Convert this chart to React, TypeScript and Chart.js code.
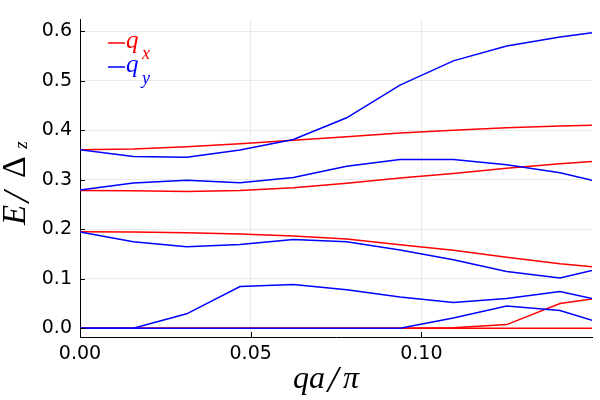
import { useEffect, useRef } from "react";
import { Chart, registerables, type Plugin } from "chart.js";

Chart.register(...registerables);

// q a / pi sample points
const qValues = [0, 0.015625, 0.03125, 0.046875, 0.0625, 0.078125, 0.09375, 0.109375, 0.125, 0.140625, 0.15];

// q_x branches (red)
const qxBand1 = [0.3605, 0.3618, 0.3664, 0.3724, 0.3796, 0.3868, 0.394, 0.4, 0.4046, 0.4085, 0.41];
const qxBand2 = [0.2783, 0.2776, 0.2763, 0.2783, 0.2836, 0.2927, 0.3033, 0.3124, 0.323, 0.3322, 0.3369];
const qxBand3 = [0.1947, 0.1941, 0.1928, 0.1902, 0.1862, 0.1803, 0.1684, 0.1572, 0.1434, 0.1302, 0.1243];
const qxBand4 = [0, 0, 0, 0, 0, 0, 0, 0.001, 0.0072, 0.05, 0.059];
const qxBand5 = [0, 0, 0, 0, 0, 0, 0, 0, 0, 0, 0];

// q_y branches (blue)
const qyBand1 = [0.3605, 0.3467, 0.3454, 0.3598, 0.381, 0.425, 0.491, 0.54, 0.57, 0.588, 0.597];
const qyBand2 = [0.2789, 0.2934, 0.2986, 0.294, 0.3046, 0.327, 0.3408, 0.3408, 0.33, 0.3138, 0.2986];
const qyBand3 = [0.1941, 0.1745, 0.1645, 0.169, 0.179, 0.1745, 0.158, 0.1382, 0.1145, 0.1013, 0.1164];
const qyBand4 = [0, 0, 0.029, 0.0842, 0.0882, 0.0776, 0.0632, 0.052, 0.0598, 0.0743, 0.0598];
const qyBand5 = [0, 0, 0, 0, 0, 0, 0, 0.0204, 0.0447, 0.0355, 0.0158];

const xTicks = [0, 0.05, 0.1];
const yTicks = [0, 0.1, 0.2, 0.3, 0.4, 0.5, 0.6];

const RED = "#ff0000";
const BLUE = "#0000ff";
const SERIF = "'Liberation Serif', 'DejaVu Serif', serif";

const toPoints = (ys: number[]) => ys.map((y, i) => ({ x: qValues[i], y }));

const line = (ys: number[], color: string, order: number) => ({
  data: toPoints(ys),
  borderColor: color,
  backgroundColor: color,
  borderWidth: 1.5,
  pointRadius: 0,
  tension: 0,
  fill: false,
  order,
});

// small tick marks pointing into the plot, like the GR backend
const innerTicks: Plugin = {
  id: "innerTicks",
  afterDraw(chart) {
    const { ctx, chartArea, scales } = chart;
    ctx.save();
    ctx.strokeStyle = "#000";
    ctx.lineWidth = 1;
    ctx.beginPath();
    for (const v of yTicks) {
      const py = Math.round(scales.y.getPixelForValue(v)) + 0.5;
      ctx.moveTo(chartArea.left, py);
      ctx.lineTo(chartArea.left + 5, py);
    }
    for (const v of xTicks) {
      const px = Math.round(scales.x.getPixelForValue(v)) + 0.5;
      ctx.moveTo(px, chartArea.bottom);
      ctx.lineTo(px, chartArea.bottom - 5);
    }
    ctx.stroke();
    ctx.restore();
  },
};

// axis titles and legend with sub-scripts
const mathText: Plugin = {
  id: "mathText",
  afterDraw(chart) {
    const { ctx } = chart;
    ctx.save();
    ctx.fillStyle = "#000";
    ctx.textBaseline = "alphabetic";

    // x title: qa/π
    ctx.font = `italic 32px ${SERIF}`;
    ctx.textAlign = "left";
    ctx.fillText("qa", 293, 388);
    ctx.font = `italic 38px ${SERIF}`;
    ctx.textAlign = "center";
    ctx.fillText("/", 333, 392);
    ctx.font = `italic 32px ${SERIF}`;
    ctx.textAlign = "left";
    ctx.fillText("π", 343, 388);

    // y title: E/Δ_z (rotated)
    ctx.save();
    ctx.translate(25, 225);
    ctx.rotate(-Math.PI / 2);
    ctx.font = `italic 33px ${SERIF}`;
    ctx.textAlign = "left";
    ctx.fillText("E", 0, 0);
    ctx.font = `italic 38px ${SERIF}`;
    ctx.textAlign = "center";
    ctx.fillText("/", 28, 4);
    ctx.font = `34px ${SERIF}`;
    ctx.fillText("Δ", 58, 0);
    ctx.font = `italic 19px ${SERIF}`;
    ctx.fillText("z", 80, 2);
    ctx.restore();

    // legend
    const rows = [
      { color: RED, sub: "x", y: 43, subY: 59 },
      { color: BLUE, sub: "y", y: 67, subY: 84 },
    ];
    for (const r of rows) {
      ctx.strokeStyle = r.color;
      ctx.fillStyle = r.color;
      ctx.lineWidth = 1.5;
      ctx.beginPath();
      ctx.moveTo(108, r.y);
      ctx.lineTo(125, r.y);
      ctx.stroke();
      ctx.textAlign = "left";
      ctx.font = `italic 25px ${SERIF}`;
      ctx.fillText("q", 126, r.y + 5);
      ctx.font = `italic 18px ${SERIF}`;
      ctx.fillText(r.sub, 142, r.subY);
    }
    ctx.restore();
  },
};

export default function App() {
  const canvasRef = useRef<HTMLCanvasElement>(null);

  useEffect(() => {
    document.body.style.margin = "0";
    const canvas = canvasRef.current;
    if (!canvas) return;

    const tickFont = { family: "'DejaVu Sans', sans-serif", size: 19 };

    const chart = new Chart(canvas, {
      type: "line",
      data: {
        datasets: [
          line(qxBand1, RED, 1),
          line(qxBand2, RED, 1),
          line(qxBand3, RED, 1),
          line(qxBand4, RED, 1),
          line(qxBand5, RED, 1),
          line(qyBand1, BLUE, 0),
          line(qyBand2, BLUE, 0),
          line(qyBand3, BLUE, 0),
          line(qyBand4, BLUE, 0),
          line(qyBand5, BLUE, 0),
        ],
      },
      options: {
        responsive: false,
        animation: false,
        devicePixelRatio: 1,
        layout: { padding: { top: 12, right: 8, left: 0, bottom: 0 } },
        plugins: { legend: { display: false }, tooltip: { enabled: false } },
        scales: {
          x: {
            type: "linear",
            min: 0,
            max: 0.15,
            afterBuildTicks: (s) => {
              s.ticks = xTicks.map((value) => ({ value }));
            },
            afterFit: (s) => {
              s.height = 63;
            },
            ticks: {
              color: "#000",
              font: tickFont,
              padding: 6,
              maxRotation: 0,
              callback: (v) => Number(v).toFixed(2),
            },
            grid: { color: "rgba(0,0,0,0.08)", drawTicks: false },
            border: { color: "#000", width: 1 },
          },
          y: {
            type: "linear",
            min: -0.0178,
            max: 0.6237,
            afterBuildTicks: (s) => {
              s.ticks = yTicks.map((value) => ({ value }));
            },
            afterFit: (s) => {
              s.width = 80;
            },
            ticks: {
              color: "#000",
              font: tickFont,
              padding: 8,
              callback: (v) => Number(v).toFixed(1),
            },
            grid: { color: "rgba(0,0,0,0.08)", drawTicks: false },
            border: { color: "#000", width: 1 },
          },
        },
      },
      plugins: [innerTicks, mathText],
    });

    return () => chart.destroy();
  }, []);

  return (
    <div style={{ width: 600, height: 400, background: "#fff" }}>
      <canvas ref={canvasRef} width={600} height={400} />
    </div>
  );
}
